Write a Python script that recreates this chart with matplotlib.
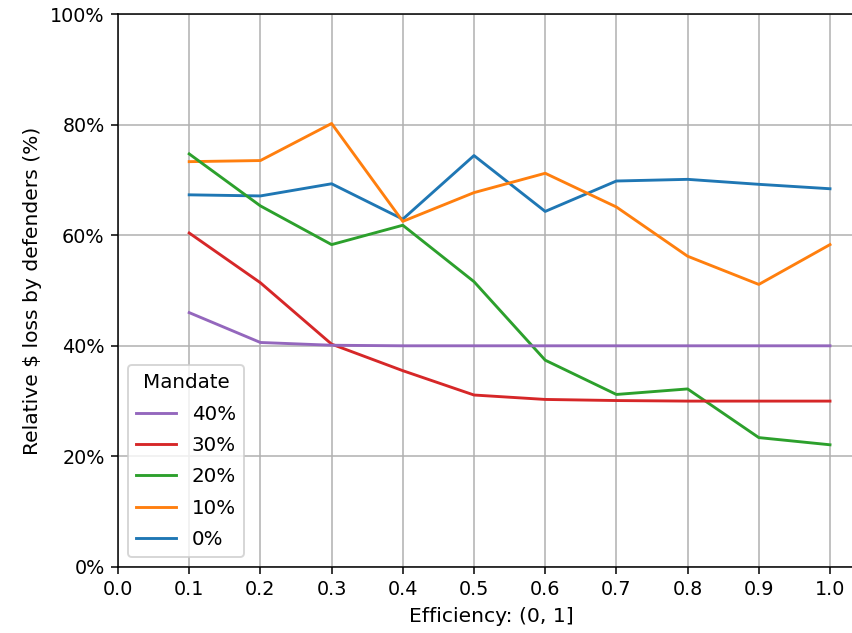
import matplotlib
matplotlib.use("Agg")
import matplotlib.pyplot as plt
from matplotlib.ticker import PercentFormatter

efficiency = [0.1, 0.2, 0.3, 0.4, 0.5, 0.6, 0.7, 0.8, 0.9, 1.0]

mandate_labels = ["0%", "10%", "20%", "30%", "40%"]
mandate_colors = ["#1f77b4", "#ff7f0e", "#2ca02c", "#d62728", "#9467bd"]

loss_0 = [67.3, 67.1, 69.3, 62.9, 74.4, 64.3, 69.8, 70.1, 69.2, 68.4]
loss_10 = [73.3, 73.5, 80.2, 62.5, 67.7, 71.2, 65.1, 56.2, 51.1, 58.3]
loss_20 = [74.7, 65.3, 58.3, 61.8, 51.6, 37.4, 31.2, 32.2, 23.4, 22.1]
loss_30 = [60.4, 51.4, 40.3, 35.5, 31.1, 30.3, 30.1, 30.0, 30.0, 30.0]
loss_40 = [46.0, 40.6, 40.1, 40.0, 40.0, 40.0, 40.0, 40.0, 40.0, 40.0]

series = [loss_0, loss_10, loss_20, loss_30, loss_40]

W, H, DPI = 852, 633, 138
fig = plt.figure(figsize=(W / DPI, H / DPI), dpi=DPI)

# axes extends past the right edge of the canvas
left_px, bottom_px, top_px = 118, 567, 14
unit_px = 712.0
xmax = 1.05
ax = fig.add_axes([left_px / W, (H - bottom_px) / H,
                   xmax * unit_px / W, (bottom_px - top_px) / H])

handles = []
for vals, lab, col in zip(series, mandate_labels, mandate_colors):
    (h,) = ax.plot(efficiency, [v / 100 for v in vals], color=col,
                   label=lab, linewidth=1.5)
    handles.append(h)

ax.set_xlim(0, xmax)
ax.set_ylim(0, 1)
ax.set_xticks([i / 10 for i in range(11)])
ax.set_yticks([0, 0.2, 0.4, 0.6, 0.8, 1.0])
ax.yaxis.set_major_formatter(PercentFormatter(xmax=1, decimals=0))
ax.grid(True)
ax.spines["right"].set_visible(False)
ax.set_xlabel("Efficiency: (0, 1]", fontsize=10.6)
ax.set_ylabel("Relative $ loss by defenders (%)", fontsize=10.6)

ax.legend(handles[::-1], mandate_labels[::-1], title="Mandate",
          loc="lower left", fontsize=10.4, title_fontsize=10.4,
          labelspacing=0.62)

fig.savefig("out.png", dpi=DPI)
